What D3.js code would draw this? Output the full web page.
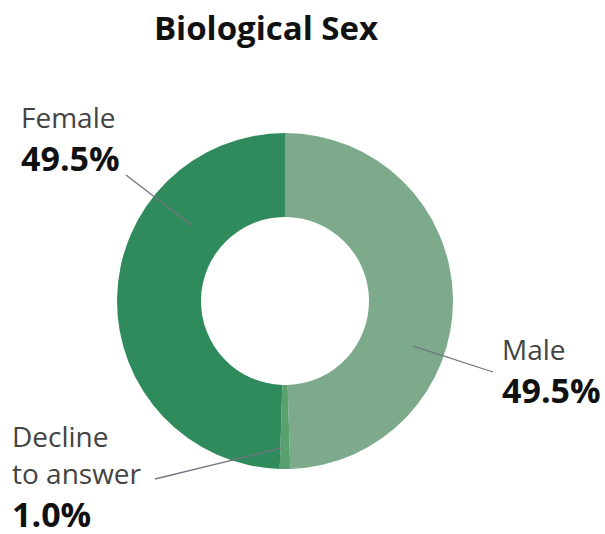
<!DOCTYPE html>
<html>
<head>
<meta charset="utf-8">
<script src="https://cdn.jsdelivr.net/npm/d3@7"></script>
<style>
  body { margin: 0; background: #fff; }
  svg { display: block; font-family: "Open Sans", "Noto Sans", sans-serif; }
</style>
</head>
<body>
<div id="chart"></div>
<script>
const categories = ["Male", "Decline to answer", "Female"];
const values = [49.5, 1.0, 49.5];
const colors = ["#7caa8b", "#58a06f", "#2f8b5c"];

// label layout: leader start (angle deg, radius), leader end, text anchor point
const labelLayout = [
  { lines: ["Male"], x: 502, y: 360, lineAngle: 109.4, lineR: 136, lx: 493, ly: 372 },
  { lines: ["Decline", "to answer"], x: 12, y: 447, lineAngle: 181.2, lineR: 147, lx: 155, ly: 479 },
  { lines: ["Female"], x: 21, y: 128, lineAngle: 309, lineR: 120, lx: 126, ly: 175 }
];

const width = 605, height = 534;
const cx = 285, cy = 301, outerR = 168, innerR = 84;

const svg = d3.select("#chart").append("svg")
  .attr("width", width).attr("height", height);

svg.append("text")
  .attr("x", 266).attr("y", 40)
  .attr("text-anchor", "middle")
  .attr("font-size", 33).attr("font-weight", 700)
  .attr("fill", "#111")
  .text("Biological Sex");

const data = categories.map((c, i) => ({ name: c, value: values[i], color: colors[i] }));

const pie = d3.pie().value(d => d.value).sort(null);
const arc = d3.arc().innerRadius(innerR).outerRadius(outerR);

const g = svg.append("g").attr("transform", `translate(${cx},${cy})`);

g.selectAll("path")
  .data(pie(data))
  .enter()
  .append("path")
  .attr("d", arc)
  .attr("fill", d => d.data.color);

// leader lines
labelLayout.forEach(l => {
  const p = d3.pointRadial(l.lineAngle * Math.PI / 180, l.lineR);
  svg.append("line")
    .attr("x1", cx + p[0]).attr("y1", cy + p[1])
    .attr("x2", l.lx).attr("y2", l.ly)
    .attr("stroke", "#70757f").attr("stroke-width", 1.3);
});

// labels
const fmt = d3.format(".1f");
labelLayout.forEach((l, i) => {
  const t = svg.append("g");
  l.lines.forEach((s, j) => {
    t.append("text")
      .attr("x", l.x).attr("y", l.y + j * 37)
      .attr("font-size", 28).attr("fill", "#444")
      .text(s);
  });
  t.append("text")
    .attr("x", l.x).attr("y", l.y + (l.lines.length - 1) * 37 + 43)
    .attr("font-size", 34).attr("font-weight", 700).attr("fill", "#111")
    .text(fmt(values[i]) + "%");
});
</script>
</body>
</html>
